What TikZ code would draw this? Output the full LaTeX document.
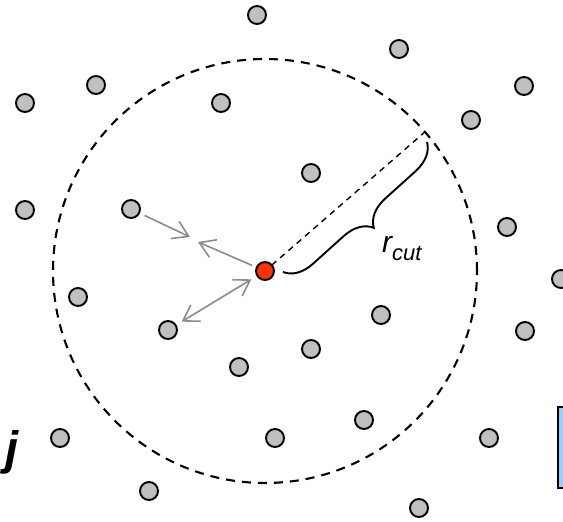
\documentclass[tikz,border=0pt]{standalone}
\usepackage{fontspec}
\setmainfont{Liberation Sans}
\usetikzlibrary{arrows.meta,decorations.pathreplacing}
\definecolor{dotgray}{HTML}{C0C0C0}
\definecolor{hotred}{HTML}{FF3300}
\definecolor{arrgray}{HTML}{8C8C8C}
\definecolor{boxblue}{HTML}{99CCFF}
\begin{document}
\begin{tikzpicture}[x=1pt,y=-1pt,
  dot/.style={circle,draw=black,fill=dotgray,line width=1.9pt,minimum size=18pt,inner sep=0pt,outer sep=0pt},
  reddot/.style={dot,fill=hotred},
  cutcircle/.style={circle,draw=black,line width=2.1pt,dash pattern=on 9pt off 7pt,minimum size=424pt,inner sep=0pt,outer sep=0pt},
  rline/.style={draw=black,line width=1.4pt,dash pattern=on 6pt off 5pt},
  force/.style={draw=arrgray,line width=1.6pt,-{Straight Barb[length=15pt,width=19pt,line width=1.6pt]}},
  dforce/.style={draw=arrgray,line width=1.6pt,{Straight Barb[length=15pt,width=19pt,line width=1.6pt]}-{Straight Barb[length=15pt,width=19pt,line width=1.6pt]}},
  bracestyle/.style={draw=black,line width=1.9pt,decorate,decoration={brace,amplitude=28pt}}
]
\useasboundingbox (0,0) rectangle (563,522);
\fill[white] (0,0) rectangle (563,522);

% cutoff circle
\node[cutcircle] (cut) at (265,271) {};

% box at the right edge
\node[draw=black,fill=boxblue,line width=2pt,minimum width=30pt,minimum height=81pt,inner sep=0pt,anchor=north west] (box) at (557,406) {};

% gray particles
\node[dot] (d1) at (257,15) {};
\node[dot] (d2) at (399,49) {};
\node[dot] (d3) at (524,86) {};
\node[dot] (d4) at (96,85) {};
\node[dot] (d5) at (25,103) {};
\node[dot] (d6) at (221,103) {};
\node[dot] (d7) at (471,120) {};
\node[dot] (d8) at (311,173) {};
\node[dot] (d9) at (25,210) {};
\node[dot] (d10) at (131,209) {};
\node[dot] (d11) at (507,227) {};
\node[dot] (d12) at (78,297) {};
\node[dot] (d13) at (561,279) {};
\node[dot] (d14) at (381,315) {};
\node[dot] (d15) at (525,331) {};
\node[dot] (d16) at (168,330) {};
\node[dot] (d17) at (311,349) {};
\node[dot] (d18) at (239,367) {};
\node[dot] (d19) at (364,420) {};
\node[dot] (d20) at (60,438) {};
\node[dot] (d21) at (275,438) {};
\node[dot] (d22) at (489,438) {};
\node[dot] (d23) at (149,491) {};
\node[dot] (d24) at (419,508) {};

% central particle
\node[reddot] (red) at (265,271) {};

% radius line
\draw[rline] (red) -- (cut.41);

% forces
\coordinate (f1) at (190,237);
\coordinate (f2) at (198,242);
\draw[force,shorten <=6pt] (d10) -- (f1);
\draw[force,shorten <=5pt] (red) -- (f2);
\draw[dforce,shorten <=7pt,shorten >=7pt] (red) -- (d16);

% brace and label
\coordinate (b1) at (427,142);
\coordinate (b2) at (283,272);
\draw[bracestyle] (b1) -- (b2);
\node[anchor=base west,inner sep=0pt] (rcut) at (382,252)
  {\fontsize{30}{34}\selectfont\itshape r\raisebox{-8pt}{\fontsize{22}{26}\selectfont cut}};

% label j
\node[anchor=base west,inner sep=0pt] (jlab) at (5,464) {\fontsize{47}{52}\selectfont\bfseries\itshape j};
\end{tikzpicture}
\end{document}
